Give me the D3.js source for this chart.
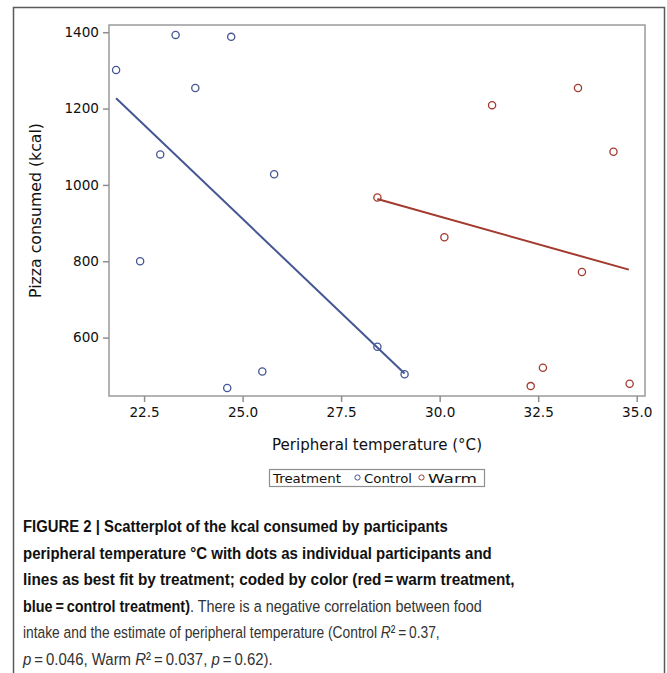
<!DOCTYPE html>
<html>
<head>
<meta charset="utf-8">
<script src="https://cdn.jsdelivr.net/npm/d3@7"></script>
<style>
  body { margin: 0; background: #fff; }
  svg { display: block; }
  .tick text { font-family: "DejaVu Sans", sans-serif; font-size: 13.6px; fill: #111; }
  .axis path, .axis line { stroke: #8f8f8f; stroke-width: 1.5; }
</style>
</head>
<body>
<svg id="chart" width="667" height="673"></svg>
<script>
// Data: peripheral temperature (°C) vs pizza consumed (kcal)
var controlTemp = [21.79, 23.30, 24.71, 23.80, 22.91, 25.80, 22.40, 24.61, 25.50, 28.42, 29.11];
var controlKcal = [1301, 1393, 1388, 1254, 1080, 1028, 800, 468, 511, 576, 504];
var warmTemp = [28.42, 31.33, 33.51, 34.41, 30.12, 33.61, 32.62, 32.31, 34.82];
var warmKcal = [967, 1209, 1254, 1087, 863, 772, 521, 473, 479];
// best-fit line endpoints as drawn
var controlFit = [[21.79, 1227], [29.11, 506]];
var warmFit = [[28.42, 963], [34.80, 778]];
var xTicks = [22.5, 25.0, 27.5, 30.0, 32.5, 35.0];
var yTicks = [600, 800, 1000, 1200, 1400];
var seriesNames = ["Control", "Warm"];
var seriesColors = ["#445694", "#A23A2E"];

var captionLines = [
  [["b", "FIGURE 2 | Scatterplot of the kcal consumed by participants"]],
  [["b", "peripheral temperature \u00b0C with dots as individual participants and"]],
  [["b", "lines as best fit by treatment; coded by color (red\u2009=\u2009warm treatment,"]],
  [["b", "blue\u2009=\u2009control treatment)"], ["n", ". There is a negative correlation between food"]],
  [["n", "intake and the estimate of peripheral temperature (Control "], ["i", "R"], ["n", "\u00b2\u2009=\u20090.37,"]],
  [["i", "p"], ["n", "\u2009=\u20090.046, Warm "], ["i", "R"], ["n", "\u00b2\u2009=\u20090.037, "], ["i", "p"], ["n", "\u2009=\u20090.62)."]]
];
var captionWidths = [425, 469, 492, 459, 417, 250];

var svg = d3.select("#chart");

// outer frame of the figure
svg.append("rect")
    .attr("x", 13.5).attr("y", 7.5)
    .attr("width", 651).attr("height", 700)
    .attr("fill", "none")
    .attr("stroke", "#5a5a5a")
    .attr("stroke-width", 1.5);

var plot = { left: 109, top: 25, right: 645, bottom: 396 };

var x = d3.scaleLinear().domain([21.61, 35.21]).range([plot.left, plot.right]);
var y = d3.scaleLinear().domain([447, 1419]).range([plot.bottom, plot.top]);

// plot frame
svg.append("rect")
    .attr("x", plot.left).attr("y", plot.top)
    .attr("width", plot.right - plot.left)
    .attr("height", plot.bottom - plot.top)
    .attr("fill", "none")
    .attr("stroke", "#9a9a9a")
    .attr("stroke-width", 1.5);

var xAxis = d3.axisBottom(x).tickValues(xTicks).tickFormat(d3.format(".1f")).tickSize(6).tickPadding(5);
var yAxis = d3.axisLeft(y).tickValues(yTicks).tickFormat(d3.format("d")).tickSize(6).tickPadding(4);

svg.append("g")
    .attr("class", "axis")
    .attr("transform", "translate(0," + plot.bottom + ")")
    .call(xAxis)
    .select(".domain").remove();

svg.append("g")
    .attr("class", "axis")
    .attr("transform", "translate(" + plot.left + ",0)")
    .call(yAxis)
    .select(".domain").remove();

// axis titles
svg.append("text")
    .attr("x", (plot.left + plot.right) / 2)
    .attr("y", 450)
    .attr("text-anchor", "middle")
    .style("font-family", "DejaVu Sans, sans-serif")
    .style("font-size", "15px")
    .attr("textLength", 210)
    .attr("lengthAdjust", "spacingAndGlyphs")
    .attr("fill", "#111")
    .text("Peripheral temperature (\u00b0C)");

svg.append("text")
    .attr("transform", "translate(41," + ((plot.top + plot.bottom) / 2) + ") rotate(-90)")
    .attr("text-anchor", "middle")
    .style("font-family", "DejaVu Sans, sans-serif")
    .style("font-size", "15px")
    .attr("textLength", 175)
    .attr("lengthAdjust", "spacingAndGlyphs")
    .attr("fill", "#111")
    .text("Pizza consumed (kcal)");

// fit lines
var line = d3.line().x(function(d) { return x(d[0]); }).y(function(d) { return y(d[1]); });
[controlFit, warmFit].forEach(function(fit, i) {
    svg.append("path")
        .datum(fit)
        .attr("d", line)
        .attr("fill", "none")
        .attr("stroke", seriesColors[i])
        .attr("stroke-width", 2);
});

// points
function drawPoints(xs, ys, color) {
    svg.append("g")
        .selectAll("circle")
        .data(xs.map(function(v, i) { return [v, ys[i]]; }))
        .enter()
        .append("circle")
        .attr("cx", function(d) { return x(d[0]); })
        .attr("cy", function(d) { return y(d[1]); })
        .attr("r", 3.6)
        .attr("fill", "none")
        .attr("stroke", color)
        .attr("stroke-width", 1.3);
}
drawPoints(controlTemp, controlKcal, seriesColors[0]);
drawPoints(warmTemp, warmKcal, seriesColors[1]);

// legend
var legend = svg.append("g");
legend.append("rect")
    .attr("x", 269.5).attr("y", 469.5)
    .attr("width", 215).attr("height", 17)
    .attr("fill", "#fff")
    .attr("stroke", "#8f8f8f")
    .attr("stroke-width", 1.2);
legend.append("text")
    .attr("x", 273).attr("y", 482.5)
    .style("font-family", "DejaVu Sans, sans-serif")
    .style("font-size", "12.5px")
    .attr("textLength", 68)
    .attr("lengthAdjust", "spacingAndGlyphs")
    .attr("fill", "#111")
    .text("Treatment");
var legendX = [357.5, 421.5];
var legendTextW = [48, 49];
seriesNames.forEach(function(name, i) {
    legend.append("circle")
        .attr("cx", legendX[i]).attr("cy", 477.5)
        .attr("r", 2.6)
        .attr("fill", "none")
        .attr("stroke", seriesColors[i])
        .attr("stroke-width", 1);
    legend.append("text")
        .attr("x", legendX[i] + 6.5).attr("y", 482.5)
        .style("font-family", "DejaVu Sans, sans-serif")
        .style("font-size", "12px")
        .attr("textLength", legendTextW[i])
        .attr("lengthAdjust", "spacingAndGlyphs")
        .attr("fill", "#111")
        .text(name);
});

// caption: each line squeezed horizontally to the width it has in the figure
captionLines.forEach(function(parts, li) {
    var ty = 532 + li * 26.6;
    var t = svg.append("text")
        .attr("x", 0)
        .attr("y", 0)
        .attr("transform", "translate(23," + ty + ")")
        .style("font-family", "'Liberation Sans Narrow', 'Liberation Sans', sans-serif")
        .style("font-size", "17px");
    parts.forEach(function(p) {
        var s = t.append("tspan").text(p[1]);
        if (p[0] === "b") s.style("font-weight", "bold").attr("fill", "#111");
        else s.attr("fill", "#333");
        if (p[0] === "i") s.style("font-style", "italic");
    });
    var w = t.node().getComputedTextLength();
    if (w > 0) t.attr("transform", "translate(23," + ty + ") scale(" + (captionWidths[li] / w).toFixed(4) + ",1)");
});
</script>
</body>
</html>
